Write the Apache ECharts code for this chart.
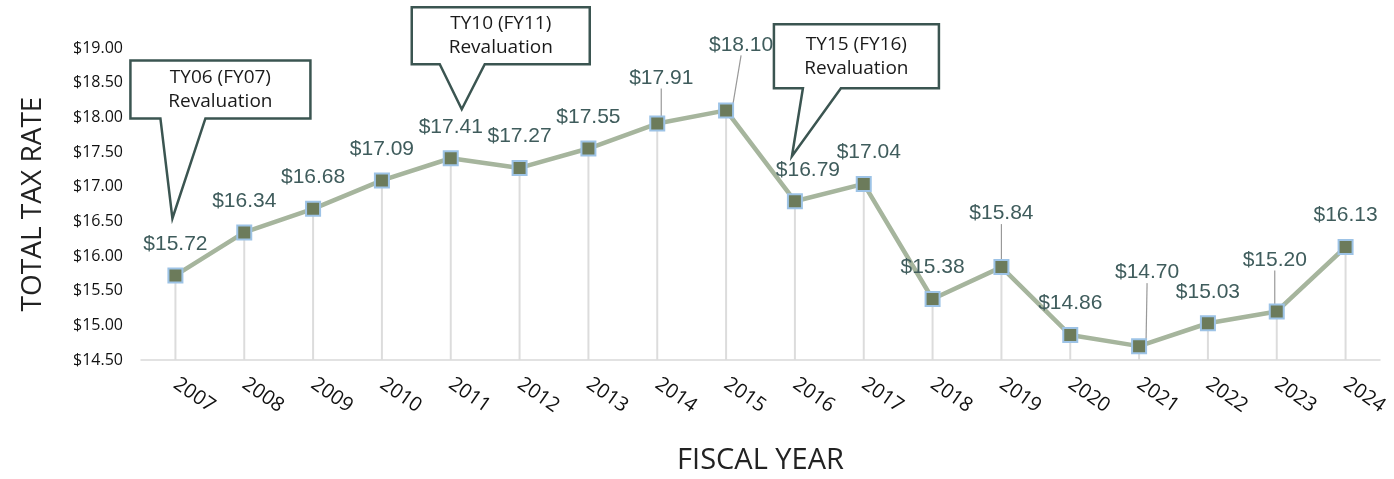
<!DOCTYPE html>
<html>
<head>
<meta charset="utf-8">
<script src="https://cdn.jsdelivr.net/npm/echarts@6/dist/echarts.min.js"></script>
<style>
  html, body { margin: 0; padding: 0; background: #fff; }
  #main { width: 1394px; height: 479px; }
</style>
</head>
<body>
<div id="main"></div>
<script>
// chart data
const years = ['2007', '2008', '2009', '2010', '2011', '2012', '2013', '2014', '2015',
  '2016', '2017', '2018', '2019', '2020', '2021', '2022', '2023', '2024'];
const taxRates = [15.72, 16.34, 16.68, 17.09, 17.41, 17.27, 17.55, 17.91, 18.10,
  16.79, 17.04, 15.38, 15.84, 14.86, 14.70, 15.03, 15.20, 16.13];
const calloutYears = ['2007', '2011', '2016'];
const calloutTexts = ['TY06 (FY07)\nRevaluation', 'TY10 (FY11)\nRevaluation', 'TY15 (FY16)\nRevaluation'];

// label nudges (pixels) and which labels get a leader line
const labelShift = {
  '2014': [4, -14], '2015': [15, -34], '2016': [13, 0], '2017': [5, 0],
  '2019': [0, -22], '2021': [8, -42], '2023': [-2, -20],
};
const leaderYears = ['2014', '2015', '2019', '2021', '2023'];

// callout box geometry relative to the point: [left, top, right, bottom], pointer base x, tip
const calloutShapes = [
  { box: [-45, -215, 135, -157], base: [-15, 30], tip: [-3, -57] },
  { box: [-39, -151, 139, -94], base: [-11, 34], tip: [11, -49] },
  { box: [-21, -177, 144, -113], base: [8, 46], tip: [-3, -45] },
];

const myChart = echarts.init(document.getElementById('main'));

const option = {
  animation: false,
  grid: {
    left: 141, right: 14, top: 48, bottom: 119,
    containLabel: false, outerBoundsMode: 'none',
  },
  xAxis: {
    type: 'category',
    data: years,
    name: 'FISCAL YEAR',
    nameLocation: 'middle',
    nameGap: 86,
    nameTextStyle: { fontFamily: 'Open Sans', fontSize: 29, color: '#222' },
    axisLine: { lineStyle: { color: '#d9d9d9', width: 1.5 } },
    axisTick: { show: false },
    axisLabel: {
      rotate: -35, margin: 22,
      fontFamily: 'Open Sans', fontSize: 20, color: '#111',
    },
  },
  yAxis: {
    type: 'value',
    min: 14.5, max: 19, interval: 0.5,
    name: 'TOTAL TAX RATE',
    nameLocation: 'middle',
    nameGap: 94,
    nameTextStyle: { fontFamily: 'Open Sans', fontSize: 28, color: '#222' },
    axisLine: { show: false },
    axisTick: { show: false },
    splitLine: { show: false },
    axisLabel: {
      margin: 18,
      fontFamily: 'Open Sans', fontSize: 16, color: '#111',
      formatter: (v) => '$' + v.toFixed(2),
    },
  },
  series: [
    {
      // thin drop lines under each point
      type: 'bar',
      data: taxRates,
      barWidth: 2,
      silent: true,
      itemStyle: { color: '#dcdcdc' },
      z: 1,
    },
    {
      type: 'line',
      data: taxRates.map((v, i) => ({
        value: v,
        labelLine: { show: leaderYears.includes(years[i]) },
      })),
      symbol: 'rect',
      symbolSize: 14,
      lineStyle: { color: '#a6b59d', width: 4.5 },
      itemStyle: { color: '#6c7b5b', borderColor: '#9dc3e6', borderWidth: 2 },
      label: {
        show: true,
        position: 'top',
        distance: 13,
        fontFamily: 'Liberation Sans',
        fontSize: 21,
        color: '#3f5c5c',
        formatter: (p) => '$' + p.value.toFixed(2),
      },
      labelLine: { show: false, lineStyle: { color: '#999', width: 1.2 } },
      labelLayout: (p) => {
        const s = labelShift[years[p.dataIndex]];
        return s ? { dx: s[0], dy: s[1] } : {};
      },
      z: 3,
    },
  ],
};

myChart.setOption(option);

// callout boxes anchored to their points
const graphics = [];
calloutYears.forEach((year, k) => {
  const idx = years.indexOf(year);
  const [px, py] = myChart.convertToPixel({ seriesIndex: 1 }, [idx, taxRates[idx]]);
  const s = calloutShapes[k];
  const [l, t, r, b] = s.box;
  graphics.push({
    type: 'polygon',
    z: 10,
    shape: {
      points: [
        [px + l, py + t], [px + r, py + t], [px + r, py + b],
        [px + s.base[1], py + b], [px + s.tip[0], py + s.tip[1]],
        [px + s.base[0], py + b], [px + l, py + b],
      ],
    },
    style: { fill: '#fff', stroke: '#3b5551', lineWidth: 2.5 },
  });
  graphics.push({
    type: 'text',
    z: 11,
    x: px + (l + r) / 2,
    y: py + (t + b) / 2,
    style: {
      text: calloutTexts[k],
      fontFamily: 'Open Sans', fontSize: 19, lineHeight: 24,
      fill: '#1a1a1a', align: 'center', verticalAlign: 'middle',
    },
  });
});
myChart.setOption({ graphic: graphics });
</script>
</body>
</html>
